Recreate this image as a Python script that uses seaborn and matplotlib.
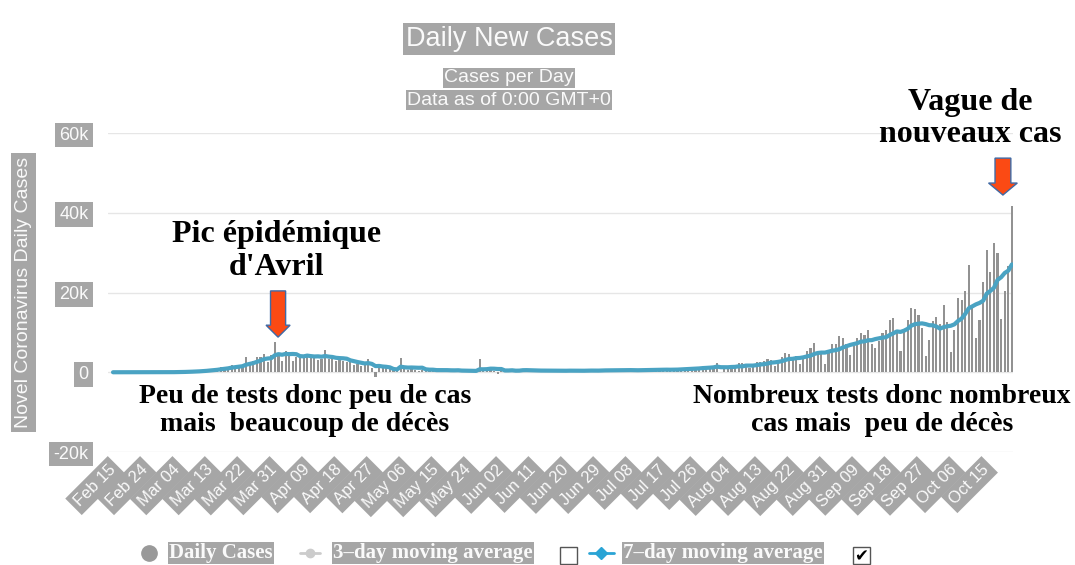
import pandas as pd
import seaborn as sns
import matplotlib.pyplot as plt
from matplotlib.patches import FancyArrow, Rectangle

# daily new cases (Feb 15 -> Oct 22, 2020)
feb = [0, 0, 0, 0, 0, 0, 0, 0, 0, 0, 0, 2, 4, 20, 43]
mar = [30, 61, 21, 73, 138, 190, 336, 177, 286, 372, 497, 595, 785, 838, 924, 1210,
       1097, 1404, 1861, 1617, 1847, 1559, 3838, 2446, 2931, 3922, 3809, 4611, 2599, 4376, 7578]
apr = [4861, 2916, 5233, 4267, 2873, 3912, 4277, 4381, 4286, 4342, 3614, 3113, 3273, 5497, 3333,
       3641, 2905, 3069, 2785, 2551, 2667, 1827, 2183, 1653, 1773, 3400, 1130, -1200, 2131, 1196]
may = [1138, 794, 580, 306, 3640, 1104, 629, 1284, 579, 312, 456, 802, 488, 556, 563, 579,
       339, 361, 524, 418, 708, 0, 410, 358, 115, 386, 3325, 598, 257, 1284, 257]
jun = [-388, 338, 767, 611, 579, 597, 352, 343, 452, 545, 416, 426, 407, 297, 344, 390,
       471, 396, 367, 378, 445, 271, 273, 435, 494, 497, 524, 345, 308, 526]
jul = [582, 571, 645, 468, 511, 536, 466, 568, 469, 500, 620, 746, 660, 674, 591, 523,
       606, 725, 650, 761, 802, 918, 904, 825, 1050, 1062, 1130, 1392, 1229, 1377, 1346]
aug = [2400, 0, 1039, 1392, 1695, 1604, 2288, 2246, 1419, 1054, 1397, 2524, 2669, 2846, 3310, 3015,
       1613, 2238, 3776, 4771, 4586, 3602, 4200, 1955, 3304, 5429, 6111, 7379, 5453, 4897, 1955]
sep = [4982, 7017, 7157, 8975, 8550, 7071, 4203, 6544, 8577, 9843, 9406, 10561, 7183, 6158, 7852,
       9784, 10593, 13215, 13498, 10569, 5298, 10008, 13072, 16096, 15797, 14412, 11123, 4070, 8051, 12845]
oct_ = [13970, 12148, 16972, 12565, 5084, 10489, 18746, 18129, 20339, 26896, 16101, 8505, 12993,
        22591, 30621, 25086, 32427, 29837, 13243, 20468, 26676, 41622]

cases = feb + mar + apr + may + jun + jul + aug + sep + oct_
dates = pd.date_range("2020-02-15", periods=len(cases), freq="D")
df = pd.DataFrame({"day": range(len(cases)), "cases": cases})
df["avg7"] = df["cases"].rolling(7, min_periods=1).mean()

y_ticks = [-20000, 0, 20000, 40000, 60000]
y_labels = ["-20k", "0", "20k", "40k", "60k"]

BAR = "#929292"
LINE = "#4aa3c3"
BOX = "#a6a6a6"
TXT = "#fafafa"

sns.set_theme(style="white")
plt.rcParams["font.family"] = ["Liberation Sans", "DejaVu Sans"]
SERIF = ["Liberation Serif", "DejaVu Serif"]

fig = plt.figure(figsize=(10.75, 5.65), dpi=100)
ax = fig.add_axes([108 / 1075, 1 - 452 / 565, 905 / 1075, 319 / 565])

sns.barplot(data=df, x="day", y="cases", native_scale=True, width=0.6, color=BAR,
            saturation=1, errorbar=None, linewidth=0, ax=ax)
sns.lineplot(data=df, x="day", y="avg7", color=LINE, lw=3, ax=ax)

ax.set_xlim(-1.4, 250.3)
ax.set_ylim(-20000, 60000)
ax.set_yticks(y_ticks)
ax.set_yticklabels(y_labels)
xt = list(range(0, len(cases), 9))
ax.set_xticks(xt)
ax.set_xticklabels([dates[t].strftime("%b %d") for t in xt], rotation=45, ha="right",
                   va="center", rotation_mode="anchor")
ax.yaxis.grid(True, color="#e6e6e6", lw=1)
ax.set_axisbelow(True)
for s in ax.spines.values():
    s.set_visible(False)
ax.tick_params(axis="both", length=0, colors=TXT)
ax.tick_params(axis="y", labelsize=13, pad=14)
ax.tick_params(axis="x", labelsize=12, pad=11)
for lab in ax.get_yticklabels():
    lab.set_bbox(dict(boxstyle="square,pad=0.22", fc=BOX, ec="none"))
for lab in ax.get_xticklabels():
    lab.set_bbox(dict(boxstyle="square,pad=0.25", fc=BOX, ec="none"))
ax.set_xlabel("")
ax.set_ylabel("Novel Coronavirus Daily Cases", fontsize=14, color=TXT,
              bbox=dict(boxstyle="square,pad=0.22", fc=BOX, ec="none"))
ax.yaxis.set_label_coords(-0.084, 0.5)

# titles
fig.text(509 / 1075, 1 - 39 / 565, "Daily New Cases", ha="center", va="center", fontsize=19.5,
         color=TXT, bbox=dict(boxstyle="square,pad=0.1", fc=BOX, ec="none"))
fig.text(509 / 1075, 1 - 78 / 565, "Cases per Day", ha="center", va="center", fontsize=14,
         color=TXT, bbox=dict(boxstyle="square,pad=0.08", fc=BOX, ec="none"))
fig.text(509 / 1075, 1 - 100 / 565, "Data as of 0:00 GMT+0", ha="center", va="center", fontsize=14,
         color=TXT, bbox=dict(boxstyle="square,pad=0.08", fc=BOX, ec="none"))

# annotations
ax.text(45.6, 30400, "Pic épidémique\nd'Avril", ha="center", va="center", fontsize=23,
        family=SERIF, weight="bold", color="black", linespacing=1.15)
ax.text(238.3, 63600, "Vague de\nnouveaux cas", ha="center", va="center", fontsize=23,
        family=SERIF, weight="bold", color="black", linespacing=1.15)
ax.text(53.4, -9600, "Peu de tests donc peu de cas\nmais  beaucoup de décès", ha="center",
        va="center", fontsize=20, family=SERIF, weight="bold", color="black", linespacing=1.15)
ax.text(213.8, -9600, "Nombreux tests donc nombreux\ncas mais  peu de décès", ha="center",
        va="center", fontsize=20, family=SERIF, weight="bold", color="black", linespacing=1.15)

for x0, top, tip, w, hw in [(45.9, 20400, 8800, 4.2, 6.7), (247.5, 53700, 44450, 4.4, 8.0)]:
    ax.add_patch(FancyArrow(x0, top, 0, tip - top, width=w, head_width=hw, head_length=3000,
                            length_includes_head=True, fc="#fb4a14", ec="#3f6aa6", lw=1,
                            clip_on=False, zorder=5))

# legend row
lax = fig.add_axes([0, 0, 1, 1])
lax.set_xlim(0, 1075)
lax.set_ylim(565, 0)
lax.axis("off")
lax.plot([149], [553], "o", ms=11, color="#999999")
lax.plot([300, 320], [553, 553], color="#cccccc", lw=2)
lax.plot([310], [553], "o", ms=6, color="#cccccc")
lax.plot([589, 614], [553, 553], color="#2aa4d5", lw=2)
lax.plot([601], [553], "D", ms=6, color="#2aa4d5")
for x0, label in [(169, "Daily Cases"), (333, "3–day moving average"), (623, "7–day moving average")]:
    lax.text(x0, 553, label, ha="left", va="center", fontsize=15, family=SERIF, weight="bold",
             color=TXT, bbox=dict(boxstyle="square,pad=0.05", fc=BOX, ec="none"))
for x0 in [560, 853]:
    lax.add_patch(Rectangle((x0, 547), 17, 17, fc="white", ec="#555555", lw=1))
lax.text(861.5, 556, "✔", ha="center", va="center", fontsize=12, color="black",
         family=["DejaVu Sans"])

fig.savefig("out.png", dpi=100)
